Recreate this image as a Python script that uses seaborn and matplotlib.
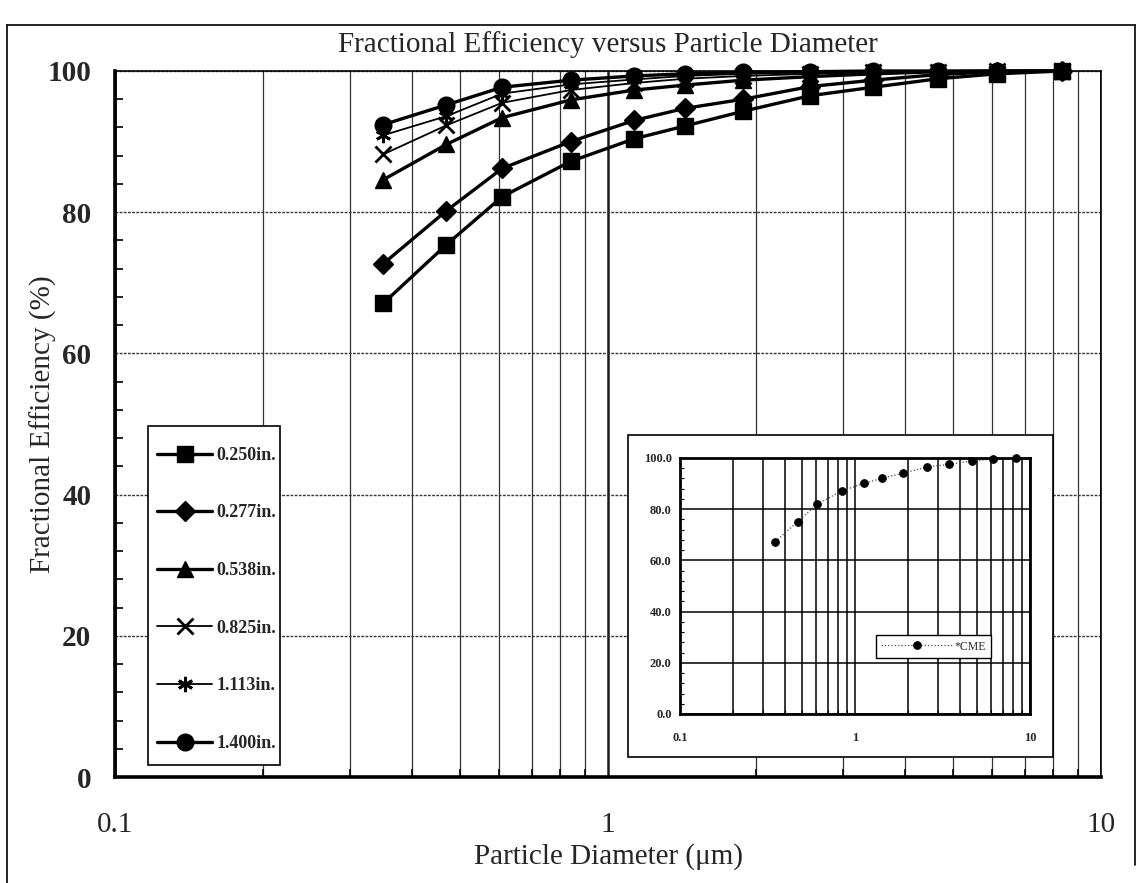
import numpy as np
import pandas as pd
import matplotlib
matplotlib.use("Agg")
import matplotlib.pyplot as plt
import seaborn as sns
from matplotlib.ticker import LogLocator, MultipleLocator, FuncFormatter, NullFormatter
from matplotlib.patches import Rectangle
from matplotlib.lines import Line2D

# particle diameter (um)
diam = [0.35, 0.47, 0.61, 0.84, 1.13, 1.43, 1.88, 2.57, 3.45, 4.67, 6.15, 8.33]

# fractional efficiency (%) for each bed depth
eff_0250 = [67.1, 75.4, 82.2, 87.2, 90.4, 92.2, 94.3, 96.5, 97.7, 98.9, 99.6, 100.0]
eff_0277 = [72.7, 80.2, 86.2, 90.0, 93.0, 94.7, 96.0, 97.8, 98.7, 99.5, 99.9, 100.0]
eff_0538 = [84.6, 89.6, 93.4, 95.9, 97.3, 98.0, 98.7, 99.2, 99.6, 99.9, 100.0, 100.0]
eff_0825 = [88.2, 92.3, 95.5, 97.3, 98.3, 98.9, 99.3, 99.6, 99.8, 99.9, 100.0, 100.0]
eff_1113 = [90.9, 93.6, 96.8, 98.1, 98.8, 99.3, 99.6, 99.8, 99.9, 100.0, 100.0, 100.0]
eff_1400 = [92.4, 95.2, 97.7, 98.7, 99.3, 99.6, 99.8, 99.9, 100.0, 100.0, 100.0, 100.0]

labels = ["0.250in.", "0.277in.", "0.538in.", "0.825in.", "1.113in.", "1.400in."]

# inset series
cme = [67.3, 75.1, 82.0, 87.1, 90.1, 92.1, 94.0, 96.4, 97.5, 98.9, 99.5, 99.9]

sns.set_theme(style="white")
plt.rcParams["font.family"] = ["Liberation Serif", "DejaVu Serif"]

fig = plt.figure(figsize=(11.38, 8.83), dpi=100)
ax = fig.add_axes([0.1011, 0.120, 0.8664, 0.7996])

series = [eff_0250, eff_0277, eff_0538, eff_0825, eff_1113, eff_1400]
markers = ["s", "D", "^", "x", (6, 2, 0), "o"]
msizes = [11, 10, 11, 11, 11, 12]
lwidths = [2.4, 2.4, 2.4, 1.3, 1.3, 2.4]

df = pd.DataFrame({"diam": diam})
for lab, vals, mk, ms, lw in zip(labels, series, markers, msizes, lwidths):
    df[lab] = vals
    sns.lineplot(data=df, x="diam", y=lab, ax=ax, color="black", lw=lw,
                 marker=mk, markersize=ms, markeredgecolor="black",
                 markeredgewidth=2.0 if mk in ("x", (6, 2, 0)) else 1,
                 label=lab, clip_on=False, zorder=4)

ax.set_xscale("log")
ax.set_xlim(0.1, 10)
ax.set_ylim(0, 100)
ax.xaxis.set_major_locator(LogLocator(base=10, numticks=5))
ax.xaxis.set_minor_locator(LogLocator(base=10, subs=np.arange(2, 10), numticks=20))
ax.xaxis.set_major_formatter(FuncFormatter(lambda v, p: f"{v:g}"))
ax.xaxis.set_minor_formatter(NullFormatter())
ax.yaxis.set_major_locator(MultipleLocator(20))
ax.yaxis.set_minor_locator(MultipleLocator(4))

ax.grid(which="minor", axis="x", color="0.2", lw=0.9)
ax.grid(which="major", axis="x", color="0.1", lw=1.8)
ax.grid(which="major", axis="y", color="0.2", lw=1.0, linestyle=(0, (2, 1)))
ax.set_axisbelow(True)

for s in ("left", "bottom"):
    ax.spines[s].set_linewidth(2.6)
for s in ("top", "right"):
    ax.spines[s].set_linewidth(1.2)
for s in ax.spines.values():
    s.set_color("black")

ax.tick_params(axis="both", which="major", direction="inout", length=14, width=1.6, color="black")
ax.tick_params(axis="both", which="minor", direction="in", length=6, width=1.2, color="black", left=True, bottom=True)
ax.tick_params(axis="y", which="major", labelsize=21, pad=10)
ax.tick_params(axis="x", which="major", labelsize=21, pad=18)
for t in ax.get_yticklabels():
    t.set_fontweight("bold")

ax.set_xlabel("Particle Diameter (\u03bcm)", fontsize=21)
ax.set_ylabel("Fractional Efficiency (%)", fontsize=21)
ax.xaxis.set_label_coords(0.5, -0.112)
ax.yaxis.set_label_coords(-0.073, 0.5)
ax.xaxis.label.set_va("center")
ax.yaxis.label.set_va("center")

fig.text(0.5343, 0.950, "Fractional Efficiency versus Particle Diameter",
         fontsize=21, ha="center", va="center")

# legend box drawn separately so the padding can differ per side
ax.add_patch(Rectangle((0.0335, 0.017), 0.134, 0.480, transform=ax.transAxes,
                       facecolor="white", edgecolor="black", lw=1.2, zorder=5))
leg = ax.legend(loc="upper left", bbox_to_anchor=(0.0426, 0.4677), frameon=False,
                prop={"size": 13, "weight": "bold"}, labelspacing=2.25,
                handlelength=3.05, handletextpad=0.22, borderpad=0,
                borderaxespad=0)
leg.set_zorder(6)

# page frame
fig.add_artist(Line2D([0.006, 0.006], [0.0, 0.972], transform=fig.transFigure, color="black", lw=1.2))
fig.add_artist(Line2D([0.006, 0.997], [0.972, 0.972], transform=fig.transFigure, color="black", lw=1.2))
fig.add_artist(Line2D([0.997, 0.997], [0.02, 0.972], transform=fig.transFigure, color="black", lw=1.2))

# inset panel
box = Rectangle((0.5518, 0.1427), 0.3735, 0.3647, transform=fig.transFigure,
                facecolor="white", edgecolor="black", lw=1.2, zorder=2)
fig.patches.append(box)

ax2 = fig.add_axes([0.5975, 0.1914, 0.3076, 0.2900])
ax2.set_zorder(3)
sns.lineplot(x=diam, y=cme, ax=ax2, color="0.3", lw=0.9, linestyle=":",
             marker="o", markersize=5.5, markerfacecolor="black",
             markeredgecolor="black", label="*CME", clip_on=False)
ax2.set_xscale("log")
ax2.set_xlim(0.1, 10)
ax2.set_ylim(0, 100)
ax2.xaxis.set_major_locator(LogLocator(base=10, numticks=5))
ax2.xaxis.set_minor_locator(LogLocator(base=10, subs=np.arange(2, 10), numticks=20))
ax2.xaxis.set_major_formatter(FuncFormatter(lambda v, p: f"{v:g}"))
ax2.xaxis.set_minor_formatter(NullFormatter())
ax2.yaxis.set_major_locator(MultipleLocator(20))
ax2.yaxis.set_minor_locator(MultipleLocator(4))
ax2.yaxis.set_major_formatter(FuncFormatter(lambda v, p: f"{v:.1f}"))
ax2.grid(which="both", axis="x", color="black", lw=1.1)
ax2.grid(which="major", axis="y", color="black", lw=1.1)
ax2.set_axisbelow(True)
for s in ax2.spines.values():
    s.set_linewidth(2.0)
    s.set_color("black")
ax2.tick_params(axis="both", which="major", direction="out", length=4, width=1.2, color="black", labelsize=9)
ax2.tick_params(axis="both", which="minor", direction="in", length=3, width=0.8, color="black", left=True, bottom=True)
ax2.tick_params(axis="x", which="major", pad=9)
ax2.tick_params(axis="y", which="major", pad=2)
for t in ax2.get_xticklabels() + ax2.get_yticklabels():
    t.set_fontweight("bold")
ax2.set_xlabel("")
ax2.set_ylabel("")
leg2 = ax2.legend(loc="lower left", bbox_to_anchor=(0.56, 0.219), frameon=True,
                  fancybox=False, edgecolor="black", framealpha=1,
                  prop={"size": 8.5}, handlelength=6.0, handletextpad=0.2,
                  borderpad=0.45, borderaxespad=0)
leg2.get_frame().set_linewidth(1.0)

fig.savefig("out.png", dpi=100)
